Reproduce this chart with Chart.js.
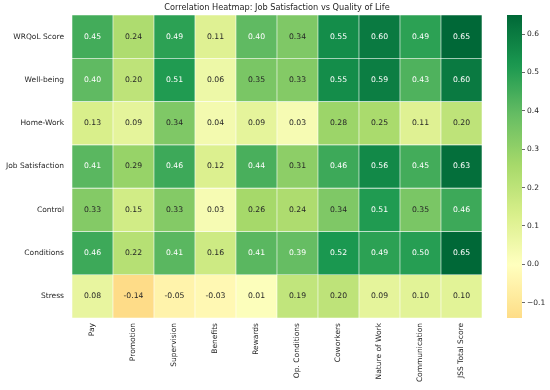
<!DOCTYPE html>
<html>
<head>
<meta charset="utf-8">
<script src="https://cdn.jsdelivr.net/npm/chart.js@4.4.1/dist/chart.umd.min.js"></script>
<style>
  html, body { margin: 0; padding: 0; background: #fff; }
  #wrap { position: relative; width: 550px; height: 390px; }
  #wrap canvas { position: absolute; left: 0; top: 0; }
</style>
</head>
<body>
<div id="wrap">
  <canvas id="heatmap" width="550" height="390"></canvas>
  <canvas id="colorbar" width="550" height="390"></canvas>
</div>
<script>
// Data
const titleText = 'Correlation Heatmap: Job Satisfaction vs Quality of Life';
const columns = ['Pay', 'Promotion', 'Supervision', 'Benefits', 'Rewards', 'Op. Conditions',
                 'Coworkers', 'Nature of Work', 'Communication', 'JSS Total Score'];
const rows = ['WRQoL Score', 'Well-being', 'Home-Work', 'Job Satisfaction', 'Control', 'Conditions', 'Stress'];

const wrqolScore      = [0.45, 0.24, 0.49, 0.11, 0.40, 0.34, 0.55, 0.60, 0.49, 0.65];
const wellBeing       = [0.40, 0.20, 0.51, 0.06, 0.35, 0.33, 0.55, 0.59, 0.43, 0.60];
const homeWork        = [0.13, 0.09, 0.34, 0.04, 0.09, 0.03, 0.28, 0.25, 0.11, 0.20];
const jobSatisfaction = [0.41, 0.29, 0.46, 0.12, 0.44, 0.31, 0.46, 0.56, 0.45, 0.63];
const control         = [0.33, 0.15, 0.33, 0.03, 0.26, 0.24, 0.34, 0.51, 0.35, 0.46];
const conditions      = [0.46, 0.22, 0.41, 0.16, 0.41, 0.39, 0.52, 0.49, 0.50, 0.65];
const stress          = [0.08, -0.14, -0.05, -0.03, 0.01, 0.19, 0.20, 0.09, 0.10, 0.10];
const rowValues = [wrqolScore, wellBeing, homeWork, jobSatisfaction, control, conditions, stress];

const colorbarTicks = [-0.1, 0.0, 0.1, 0.2, 0.3, 0.4, 0.5, 0.6];

// RdYlGn colormap, centred on zero like seaborn does
const rdYlGn = [
  [165, 0, 38], [215, 48, 39], [244, 109, 67], [253, 174, 97], [254, 224, 139],
  [255, 255, 191], [217, 239, 139], [166, 217, 106], [102, 189, 99], [26, 152, 80], [0, 104, 55]
];
const allVals = rowValues.flat();
const vmin = Math.min(...allVals);
const vmax = Math.max(...allVals);
const vrange = Math.max(vmax, -vmin);

function cmapRGB(v) {
  let t = (v + vrange) / (2 * vrange);
  t = Math.min(1, Math.max(0, t));
  const pos = t * (rdYlGn.length - 1);
  const i = Math.min(rdYlGn.length - 2, Math.floor(pos));
  const f = pos - i;
  const a = rdYlGn[i], b = rdYlGn[i + 1];
  return [0, 1, 2].map(k => Math.round(a[k] + (b[k] - a[k]) * f));
}
function cmap(v) {
  const c = cmapRGB(v);
  return `rgb(${c[0]},${c[1]},${c[2]})`;
}
function textColorFor(v) {
  const lin = cmapRGB(v).map(c => {
    c = c / 255;
    return c <= 0.03928 ? c / 12.92 : Math.pow((c + 0.055) / 1.055, 2.4);
  });
  const lum = 0.2126 * lin[0] + 0.7152 * lin[1] + 0.0722 * lin[2];
  return lum > 0.408 ? '#262626' : '#ffffff';
}

const FONT = "'DejaVu Sans', sans-serif";
const TEXT = '#262626';

// title centred over the heatmap area
const titlePlugin = {
  id: 'heatTitle',
  afterDraw(chart) {
    const { ctx, chartArea } = chart;
    ctx.save();
    ctx.font = `8.2px ${FONT}`;
    ctx.fillStyle = TEXT;
    ctx.textAlign = 'center';
    ctx.textBaseline = 'middle';
    ctx.fillText(titleText, (chartArea.left + chartArea.right) / 2, 8);
    ctx.restore();
  }
};

// write each value in its cell
const cellLabels = {
  id: 'cellLabels',
  afterDatasetsDraw(chart) {
    const { ctx } = chart;
    ctx.save();
    ctx.font = `7.7px ${FONT}`;
    ctx.textAlign = 'center';
    ctx.textBaseline = 'middle';
    chart.data.datasets.forEach((ds, i) => {
      chart.getDatasetMeta(i).data.forEach((bar, j) => {
        const v = ds.values[j];
        ctx.fillStyle = textColorFor(v);
        ctx.fillText(v.toFixed(2), bar.x, (bar.y + bar.base) / 2);
      });
    });
    ctx.restore();
  }
};

new Chart(document.getElementById('heatmap'), {
  type: 'bar',
  data: {
    labels: columns,
    datasets: rows.map((name, i) => ({
      label: name,
      values: rowValues[i],
      data: columns.map(() => [i, i + 1]),
      backgroundColor: rowValues[i].map(cmap),
      borderColor: 'rgba(255,255,255,0.85)',
      borderWidth: 0.6,
      borderSkipped: false,
      grouped: false,
      barPercentage: 1,
      categoryPercentage: 1
    }))
  },
  options: {
    responsive: false,
    animation: false,
    layout: { padding: { top: 15, right: 68, bottom: 0, left: 0 } },
    plugins: { legend: { display: false }, tooltip: { enabled: false }, title: { display: false } },
    scales: {
      x: {
        grid: { display: false, drawTicks: false },
        border: { display: false },
        ticks: {
          color: TEXT, font: { family: FONT, size: 7.5 },
          minRotation: 90, maxRotation: 90, autoSkip: false, padding: 5
        },
        afterFit(axis) { axis.height = 72; }
      },
      y: {
        min: 0, max: rows.length, reverse: true,
        grid: { display: false, drawTicks: false },
        border: { display: false },
        ticks: {
          color: TEXT, font: { family: FONT, size: 7.5 }, padding: 8,
          callback: v => rows[Math.floor(v)]
        },
        afterBuildTicks(axis) { axis.ticks = rows.map((r, i) => ({ value: i + 0.5 })); },
        afterFit(axis) { axis.width = 72; }
      }
    }
  },
  plugins: [titlePlugin, cellLabels]
});

// colour bar as its own little chart
new Chart(document.getElementById('colorbar'), {
  type: 'bar',
  data: {
    labels: [''],
    datasets: [{
      data: [[vmin, vmax]],
      barPercentage: 1,
      categoryPercentage: 1,
      borderWidth: 0,
      backgroundColor(context) {
        const { ctx, chartArea } = context.chart;
        if (!chartArea) return cmap(0);
        const g = ctx.createLinearGradient(0, chartArea.bottom, 0, chartArea.top);
        for (let k = 0; k <= 40; k++) {
          const v = vmin + (vmax - vmin) * k / 40;
          g.addColorStop(k / 40, cmap(v));
        }
        return g;
      }
    }]
  },
  options: {
    responsive: false,
    animation: false,
    layout: { padding: { top: 15, right: 0, bottom: 72, left: 507 } },
    plugins: { legend: { display: false }, tooltip: { enabled: false } },
    scales: {
      x: { display: false },
      y: {
        position: 'right',
        min: vmin, max: vmax,
        grid: { drawOnChartArea: false, drawTicks: true, tickLength: 3, color: '#444', lineWidth: 0.8 },
        border: { display: false },
        ticks: {
          color: TEXT, font: { family: FONT, size: 7.5 }, padding: 2,
          callback: v => (v < 0 ? '\u2212' + Math.abs(v).toFixed(1) : v.toFixed(1))
        },
        afterBuildTicks(axis) { axis.ticks = colorbarTicks.map(v => ({ value: v })); },
        afterFit(axis) { axis.width = 28; }
      }
    }
  }
});
</script>
</body>
</html>
